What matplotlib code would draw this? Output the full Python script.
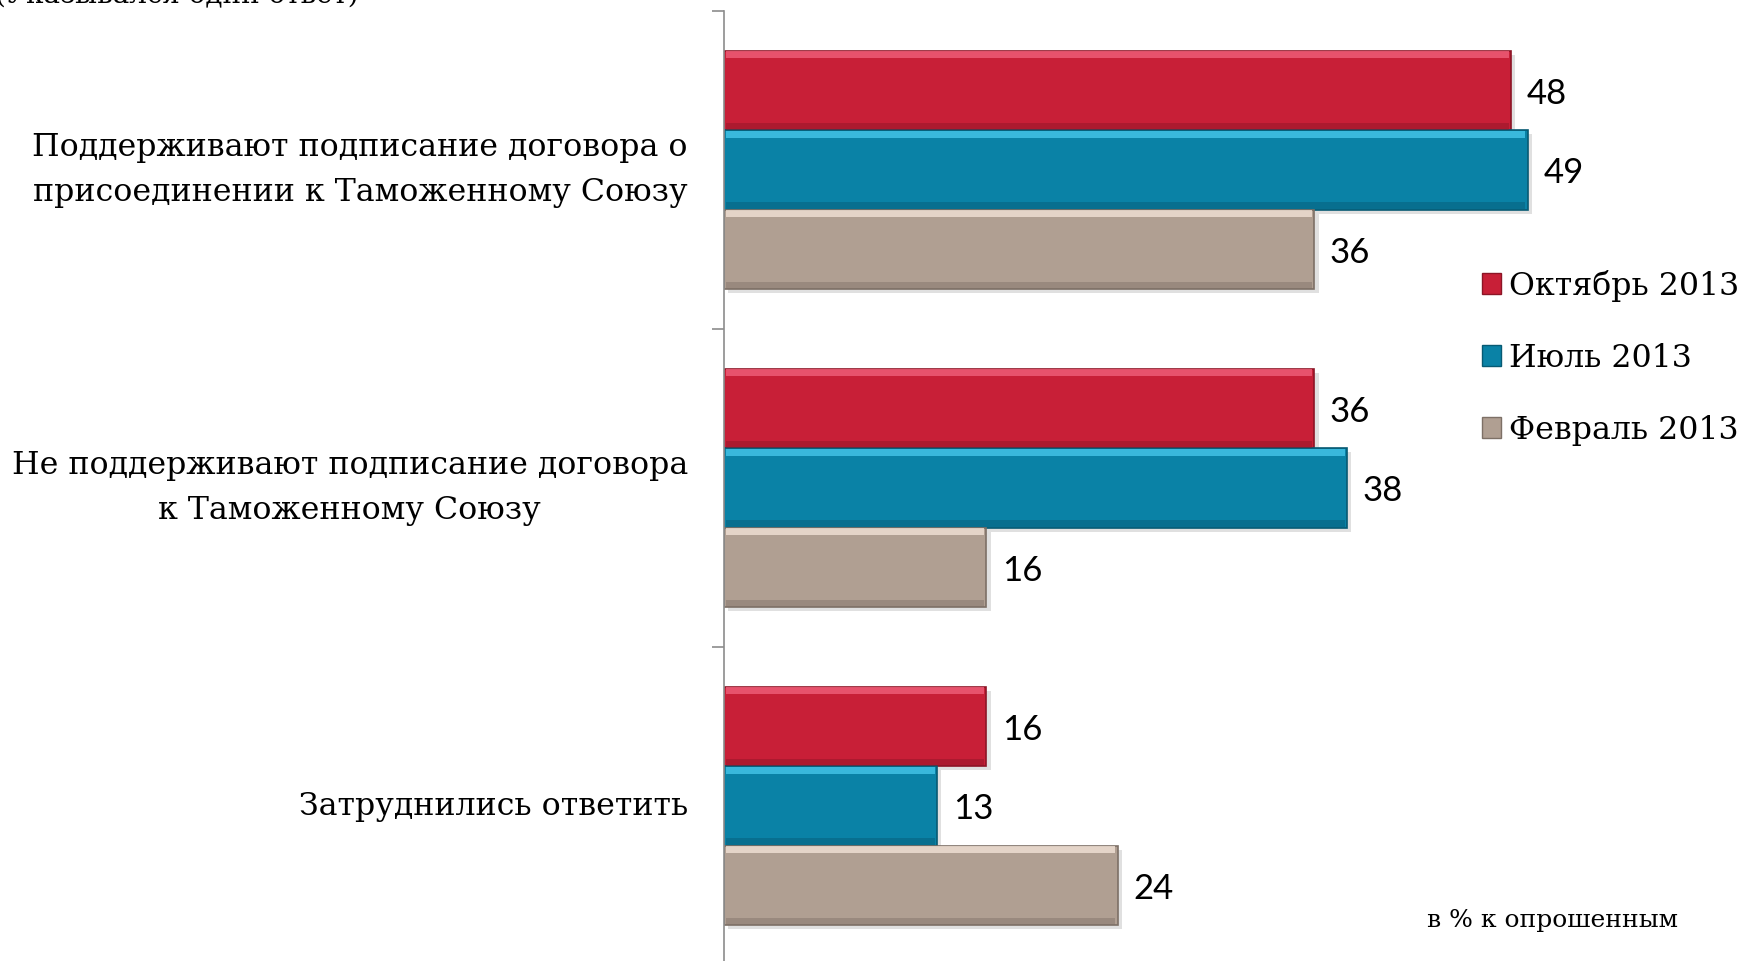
import numpy as np
import matplotlib
matplotlib.use("Agg")
import matplotlib.pyplot as plt
from matplotlib.patches import Patch

# ── data ──────────────────────────────────────────────────────────────
categories = [
    "Поддерживают подписание договора о\nприсоединении к Таможенному Союзу",
    "Не поддерживают подписание договора\nк Таможенному Союзу",
    "Затруднились ответить",
]
series_names = ["Октябрь 2013", "Июль 2013", "Февраль 2013"]
oct_2013 = [48, 36, 16]
jul_2013 = [49, 38, 13]
feb_2013 = [36, 16, 24]

colors = ["#C81F37", "#0A82A6", "#B09F92"]
edge_colors = ["#8C1526", "#075A73", "#7D7066"]
light_colors = ["#F0607A", "#45C6EA", "#F2E2D6"]

W, H = 1748, 961
fig = plt.figure(figsize=(W / 100, H / 100), dpi=100)
fig.patch.set_facecolor("white")

# axes placed so that 1 unit = 16.4 px and the category ticks match
x0_px, top_px, bot_px = 724, 11, 965
ax = fig.add_axes([x0_px / W, 1 - bot_px / H, (W - x0_px) / W, (bot_px - top_px) / H])
ax.set_xlim(0, (W - x0_px) / 16.4)
ax.set_ylim(2.5, -0.5)

y = np.arange(len(categories))
bh = 0.25
offsets = [-bh, 0, bh]
all_series = [oct_2013, jul_2013, feb_2013]

for vals, off, c, ec, lc, name in zip(all_series, offsets, colors, edge_colors,
                                      light_colors, series_names):
    pos = y + off
    # soft shadow
    ax.barh(pos + 0.012, vals, height=bh, left=0.25, color="#000000",
            alpha=0.12, linewidth=0, zorder=1)
    ax.barh(pos, vals, height=bh, color=c, edgecolor=ec, linewidth=1.2,
            zorder=2, label=name)
    # bevel: light top strip, darker bottom strip
    ax.barh(pos - bh / 2 + 0.012, [v - 0.3 for v in vals], height=0.022,
            left=0.15, color=lc, alpha=0.8, linewidth=0, zorder=3)
    ax.barh(pos + bh / 2 - 0.012, [v - 0.3 for v in vals], height=0.022,
            left=0.15, color=ec, alpha=0.45, linewidth=0, zorder=3)
    for p, v in zip(pos, vals):
        ax.text(v + 0.95, p, f"{v}", va="center_baseline", ha="left",
                fontsize=25, family="Lato", color="black")

# axis styling
for s in ["top", "right", "bottom"]:
    ax.spines[s].set_visible(False)
ax.spines["left"].set_color("#8C8C8C")
ax.spines["left"].set_linewidth(1.2)
ax.set_xticks([])
ax.set_yticks([-0.5, 0.5, 1.5, 2.5])
ax.set_yticklabels([])
ax.tick_params(axis="y", direction="out", length=9, width=1.2, color="#8C8C8C")

# category labels
for yi, lab in zip(y, categories):
    ax.annotate(lab, xy=(0, yi), xycoords=("axes fraction", "data"),
                xytext=(-36, 0), textcoords="offset pixels",
                ha="right", va="center", multialignment="center",
                fontsize=22.8, family="DejaVu Serif", linespacing=1.55)

handles = [Patch(facecolor=c, edgecolor=ec, linewidth=1.0)
           for c, ec in zip(colors, edge_colors)]
leg = fig.legend(handles, series_names, loc="upper left",
                 bbox_to_anchor=(1466 / W, 1 - 254 / H), frameon=False,
                 prop={"family": "DejaVu Serif", "size": 22.8},
                 handlelength=0.62, handleheight=0.62, handletextpad=0.25,
                 labelspacing=1.29, borderpad=0)

fig.text(1427 / W, 1 - 920 / H, "в % к опрошенным", ha="left", va="center",
         fontsize=18, family="DejaVu Serif")
fig.text(-0.003, 1 - 3 / H, "(Указывался один ответ)", ha="left", va="baseline",
         fontsize=20, family="DejaVu Serif")

fig.savefig("out.png", dpi=100)
